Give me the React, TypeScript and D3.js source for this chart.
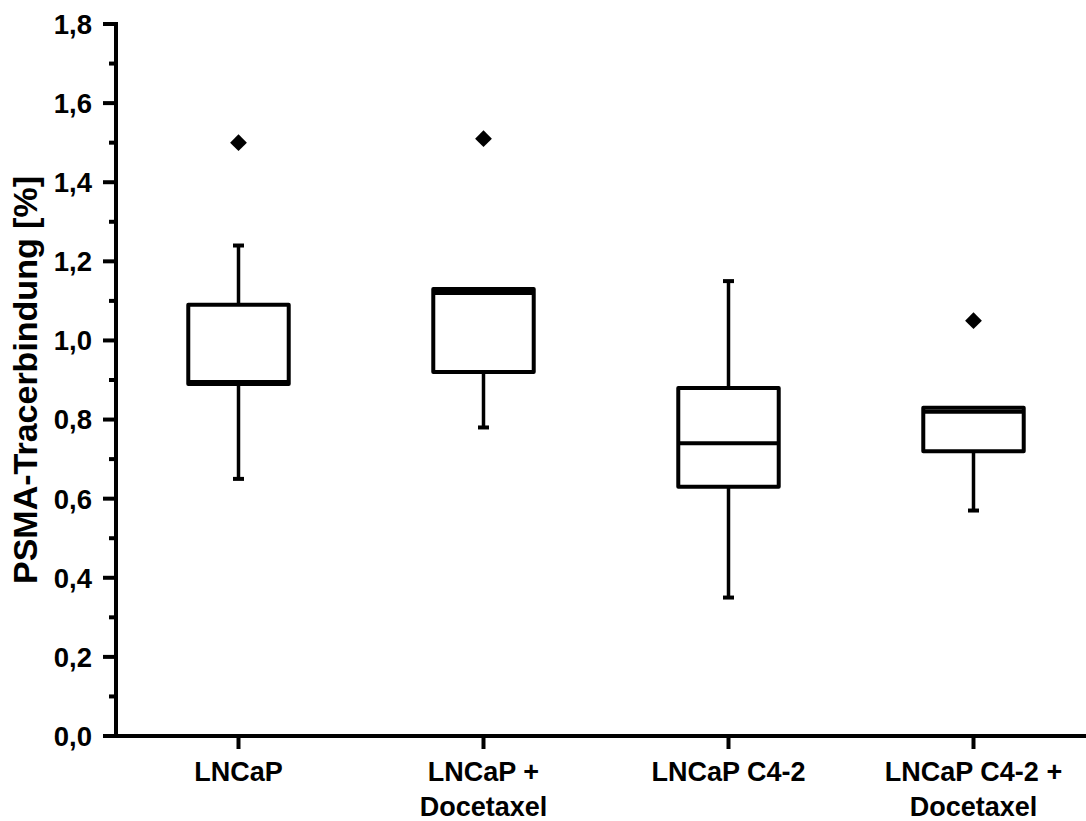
import React from "react";
import * as d3 from "d3";

const categories = [["LNCaP"], ["LNCaP +", "Docetaxel"], ["LNCaP C4-2"], ["LNCaP C4-2 +", "Docetaxel"]];
const whiskerLow = [0.65, 0.78, 0.35, 0.57];
const q1 = [0.89, 0.92, 0.63, 0.72];
const median = [0.895, 1.12, 0.74, 0.82];
const q3 = [1.09, 1.13, 0.88, 0.83];
const whiskerHigh = [1.24, 1.13, 1.15, 0.83];
const outliers = [[1.5], [1.51], [], [1.05]];
const yTicks = [0, 0.2, 0.4, 0.6, 0.8, 1.0, 1.2, 1.4, 1.6, 1.8];
const yMinorTicks = [0.1, 0.3, 0.5, 0.7, 0.9, 1.1, 1.3, 1.5, 1.7];
const yTitle = "PSMA-Tracerbindung [%]";

const W = 1086;
const H = 821;
const FONT = "Arial, 'Liberation Sans', Helvetica, sans-serif";

export default function App() {
  const keys = categories.map((_, i) => String(i));
  const x = d3.scaleBand<string>().domain(keys).range([116, 1096]).padding(0);
  const y = d3.scaleLinear().domain([0, 1.8]).range([736, 24]);
  const bw = x.bandwidth();
  const boxW = bw * 0.41;
  const capW = 11;
  const fmt = (v: number) => v.toFixed(1).replace(".", ",");
  const diamond = d3.symbol().type(d3.symbolDiamond2).size(180)();

  return (
    <svg width={W} height={H} style={{ display: "block", position: "absolute", left: 0, top: 0, background: "#fff" }}>
      <rect x={0} y={0} width={W} height={H} fill="#fff" />
      {/* Y axis */}
      <line x1={116} x2={116} y1={y(0) + 2} y2={y(1.8) - 2} stroke="#000" strokeWidth={4} />
      {yTicks.map((t) => (
        <g key={"yt" + t}>
          <line x1={103} x2={116} y1={y(t)} y2={y(t)} stroke="#000" strokeWidth={4} />
          <text x={92} y={y(t)} dy="0.36em" textAnchor="end" fontFamily={FONT} fontWeight="bold" fontSize={27.5} fill="#000">
            {fmt(t)}
          </text>
        </g>
      ))}
      {yMinorTicks.map((t) => (
        <line key={"ym" + t} x1={109} x2={116} y1={y(t)} y2={y(t)} stroke="#000" strokeWidth={4} />
      ))}
      {/* X axis */}
      <line x1={103} x2={W} y1={y(0)} y2={y(0)} stroke="#000" strokeWidth={4} />
      {keys.map((k, i) => {
        const cx = (x(k) as number) + bw / 2;
        return (
          <g key={"xt" + k}>
            <line x1={cx} x2={cx} y1={y(0)} y2={y(0) + 13} stroke="#000" strokeWidth={4} />
            {categories[i].map((line, j) => (
              <text key={j} x={cx} y={781 + j * 35} textAnchor="middle" fontFamily={FONT} fontWeight="bold" fontSize={27} fill="#000">
                {line}
              </text>
            ))}
          </g>
        );
      })}
      {/* Y title */}
      <text
        transform={`translate(37, ${(y(0) + y(1.8)) / 2}) rotate(-90)`}
        textAnchor="middle"
        fontFamily={FONT}
        fontWeight="bold"
        fontSize={34}
        fill="#000"
      >
        {yTitle}
      </text>
      {/* Boxes */}
      {keys.map((k, i) => {
        const cx = (x(k) as number) + bw / 2;
        return (
          <g key={"box" + k}>
            <line x1={cx} x2={cx} y1={y(q3[i])} y2={y(whiskerHigh[i])} stroke="#000" strokeWidth={3.5} />
            <line x1={cx} x2={cx} y1={y(q1[i])} y2={y(whiskerLow[i])} stroke="#000" strokeWidth={3.5} />
            {whiskerHigh[i] > q3[i] && (
              <line x1={cx - capW / 2} x2={cx + capW / 2} y1={y(whiskerHigh[i])} y2={y(whiskerHigh[i])} stroke="#000" strokeWidth={4} />
            )}
            <line x1={cx - capW / 2} x2={cx + capW / 2} y1={y(whiskerLow[i])} y2={y(whiskerLow[i])} stroke="#000" strokeWidth={4} />
            <rect
              x={cx - boxW / 2}
              y={y(q3[i])}
              width={boxW}
              height={y(q1[i]) - y(q3[i])}
              fill="#fff"
              stroke="#000"
              strokeWidth={4}
              strokeLinejoin="round"
            />
            <line x1={cx - boxW / 2} x2={cx + boxW / 2} y1={y(median[i])} y2={y(median[i])} stroke="#000" strokeWidth={4} />
            {outliers[i].map((o, j) => (
              <path key={j} d={diamond as string} transform={`translate(${cx}, ${y(o)})`} fill="#000" />
            ))}
          </g>
        );
      })}
    </svg>
  );
}
